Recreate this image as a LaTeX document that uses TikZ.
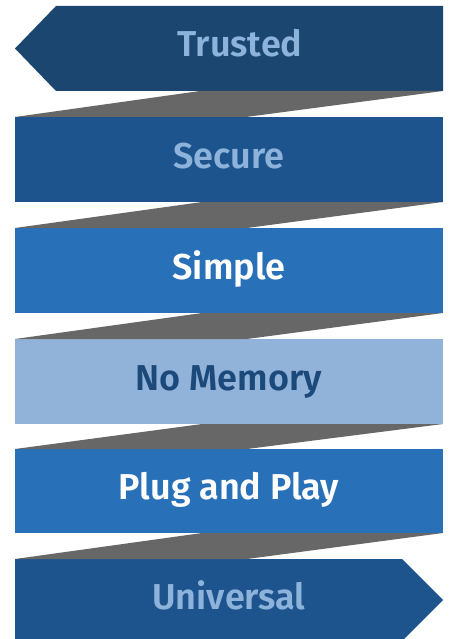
\documentclass[tikz,border=0pt]{standalone}
\usepackage{fontspec}
\setmainfont{Fira Sans}[BoldFont={Fira Sans SemiBold}]
\definecolor{navy}{HTML}{1A4670}
\definecolor{midblue}{HTML}{1D548E}
\definecolor{brightblue}{HTML}{2870B8}
\definecolor{paleblue}{HTML}{92B3D9}
\definecolor{lighttext}{HTML}{8DB3DB}
\definecolor{darktext}{HTML}{1B4A7A}
\definecolor{linkgray}{HTML}{676767}
\tikzset{
  lbl/.style={anchor=base, font=\fontsize{36}{40}\selectfont\bfseries, inner sep=0pt},
  link/.style={fill=linkgray},
}
\begin{document}
\begin{tikzpicture}[x=1pt,y=-1pt]
\useasboundingbox (0,0) rectangle (450,639);
% boxes
\fill[navy] (15,48.5) -- (56,6) -- (443,6) -- (443,91) -- (56,91) -- cycle;
\fill[midblue] (15,117) rectangle (443,202);
\fill[brightblue] (15,228) rectangle (443,313);
\fill[paleblue] (15,339) rectangle (443,424);
\fill[brightblue] (15,449) rectangle (443,533);
\fill[midblue] (15,559) -- (402,559) -- (443,600) -- (402,641) -- (15,641) -- cycle;
% connectors
\fill[link] (200,91) -- (443,91) -- (246,117) -- (15,117) -- cycle;
\fill[link] (202,202) -- (443,202) -- (247,228) -- (15,228) -- cycle;
\fill[link] (202,313) -- (443,313) -- (247,339) -- (15,339) -- cycle;
\fill[link] (202,424) -- (443,424) -- (247,449) -- (15,449) -- cycle;
\fill[link] (202,533) -- (443,533) -- (247,559) -- (15,559) -- cycle;
% labels
\node[lbl, text=lighttext] (trusted) at (240,57) {Trusted};
\node[lbl, text=lighttext] (secure) at (229,168) {Secure};
\node[lbl, text=white] (simple) at (229,279) {Simple};
\node[lbl, text=darktext] (nomemory) at (229,390) {No Memory};
\node[lbl, text=white] (plugplay) at (229,499) {Plug and Play};
\node[lbl, text=lighttext] (universal) at (229,609) {Universal};
\end{tikzpicture}
\end{document}
